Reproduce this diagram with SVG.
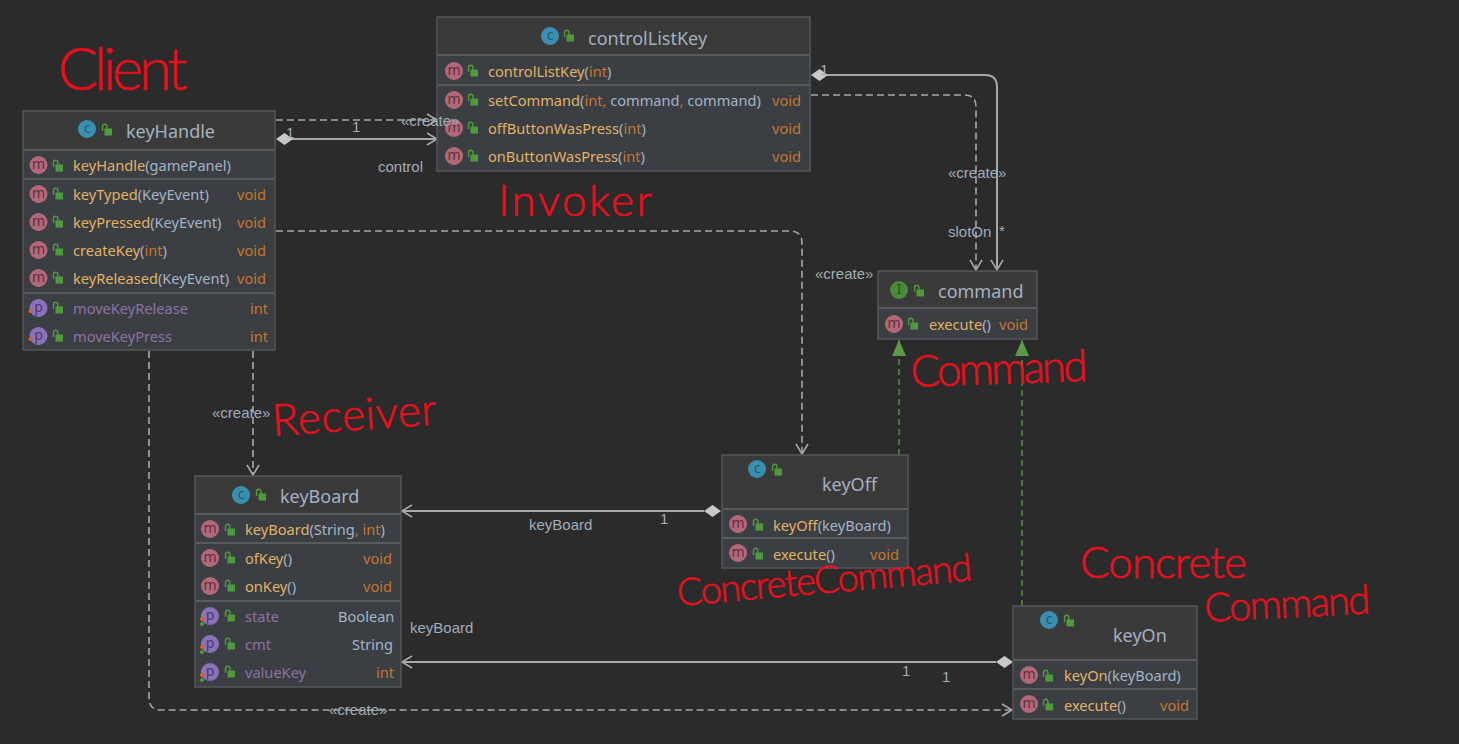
<svg xmlns="http://www.w3.org/2000/svg" width="1459" height="744" viewBox="0 0 1459 744">
<style>
.box{fill:#3b3f43;stroke:#555759;stroke-width:1.5}
.hd{fill:#3a3a3a}
.sep{stroke:#585a5c;stroke-width:2;fill:none}
text{font-family:"Noto Sans","Open Sans",sans-serif;font-size:14.6px}
text.title{font-size:18px;fill:#a3b1c0}
.n{fill:#e2b265}
.a{fill:#a3b4c6}
.o{fill:#c5762f}
.f{fill:#8e72a6}
.r{fill:#a3b4c6}
text.lb{font-family:"Liberation Sans",Arial,sans-serif;font-size:15px;fill:#a0adba}
.s{fill:none;stroke:#a8a8a8;stroke-width:2}
.d{fill:none;stroke:#a8a8a8;stroke-width:1.6;stroke-dasharray:7 4}
.g{fill:none;stroke:#4f8a3f;stroke-width:1.6;stroke-dasharray:6 4}
text.hw{font-family:"Lato","Noto Sans",sans-serif;font-weight:300;fill:#e8101e;stroke:#e8101e;stroke-width:.6;font-size:44px}
text.ic{font-family:"Noto Sans",sans-serif;font-size:14px;text-anchor:middle}
</style>
<defs>
<marker id="open" markerUnits="userSpaceOnUse" markerWidth="16" markerHeight="16" refX="11" refY="7" orient="auto"><path d="M1 1L11 7L1 13" fill="none" stroke="#a8a8a8" stroke-width="1.6"/></marker>
<marker id="tri" markerUnits="userSpaceOnUse" markerWidth="16" markerHeight="18" refX="16" refY="8" orient="auto"><path d="M0 1L16 8L0 15Z" fill="#5b9a48"/></marker>
<g id="lock"><rect x="-2.5" y="-1.5" width="7.5" height="7" fill="#4f9a3a"/><path d="M-4.500 1V-3.500a2.200 2.200 0 0 1 4.400 0V-1" fill="none" stroke="#4f9a3a" stroke-width="1.4"/></g>
<g id="m"><circle r="9" fill="#b3687a"/><text class="ic" y="4" fill="#5e2f3b">m</text></g>
<g id="p"><circle r="9" fill="#8a72ba"/><text class="ic" y="4" fill="#4a3a70">p</text><circle cx="-8" cy="3" r="2" fill="#e0601e"/></g>
<g id="pp"><circle r="9" fill="#8a72ba"/><text class="ic" y="4" fill="#4a3a70">p</text><circle cx="-8" cy="3" r="2" fill="#e0601e"/><circle cx="-8" cy="8" r="2" fill="#4f9a3a"/></g>
<g id="c"><circle r="9" fill="#3a8fb0"/><text class="ic" y="4" fill="#1f5a72">c</text></g>
<g id="i"><circle r="9" fill="#4a8a3a"/><text class="ic" y="4" fill="#24501c">I</text></g>
</defs>
<rect width="1459" height="744" fill="#2b2b2b"/>

<g id="connectors">
<path class="d" d="M276 120H437" marker-end="url(#open)"/>
<path class="s" d="M292 139H437" marker-end="url(#open)"/>
<path d="M276 139L284.500 133L293 139L284.500 145Z" fill="#c8c8c8"/>
<path class="d" d="M276 231H790Q802 231 802 243V454" marker-end="url(#open)"/>
<path class="s" d="M826 75H985Q997 75 997 87V270" marker-end="url(#open)"/>
<path d="M811 75L819.500 69L828 75L819.500 81Z" fill="#c8c8c8"/>
<path class="d" d="M811 95H965Q976 95 976 107V270" marker-end="url(#open)"/>
<path class="d" d="M253 351V475" marker-end="url(#open)"/>
<path class="d" d="M149 351V698Q149 710 161 710H1012" marker-end="url(#open)"/>
<path class="s" d="M704 511H402" marker-end="url(#open)"/>
<path d="M704 511L712.500 505L721 511L712.500 517Z" fill="#c8c8c8"/>
<path class="s" d="M996 662H402" marker-end="url(#open)"/>
<path d="M996 662L1004.500 656L1013 662L1004.500 668Z" fill="#c8c8c8"/>
<path class="g" d="M899 455V340" marker-end="url(#tri)"/>
<path class="g" d="M1022 606V340" marker-end="url(#tri)"/>
</g>

<g id="keyHandle">
<rect class="box" x="23" y="111" width="252" height="239"/>
<rect class="hd" x="24" y="112" width="250" height="38"/>
<path class="sep" d="M24 150H274M24 179H274M24 293H274"/>
<use href="#c" x="87" y="129"/><use href="#lock" x="107" y="130"/>
<text class="title" x="126" y="138">keyHandle</text>
<use href="#m" x="38.500" y="165"/><use href="#lock" x="58" y="166"/>
<text x="73" y="171"><tspan class="n">keyHandle</tspan><tspan class="a">(gamePanel)</tspan></text>
<use href="#m" x="38.500" y="194"/><use href="#lock" x="58" y="194"/>
<text x="73" y="200"><tspan class="n">keyTyped</tspan><tspan class="a">(KeyEvent)</tspan></text><text class="o" x="237" y="200">void</text>
<use href="#m" x="38.500" y="222"/><use href="#lock" x="58" y="222"/>
<text x="73" y="228"><tspan class="n">keyPressed</tspan><tspan class="a">(KeyEvent)</tspan></text><text class="o" x="237" y="228">void</text>
<use href="#m" x="38.500" y="250"/><use href="#lock" x="58" y="250"/>
<text x="73" y="256"><tspan class="n">createKey</tspan><tspan class="a">(</tspan><tspan class="o">int</tspan><tspan class="a">)</tspan></text><text class="o" x="237" y="256">void</text>
<use href="#m" x="38.500" y="278"/><use href="#lock" x="58" y="278"/>
<text x="73" y="284"><tspan class="n">keyReleased</tspan><tspan class="a">(KeyEvent)</tspan></text><text class="o" x="237" y="284">void</text>
<use href="#p" x="38.500" y="308"/><use href="#lock" x="58" y="308"/>
<text class="f" x="73" y="314">moveKeyRelease</text><text class="o" x="250" y="314">int</text>
<use href="#p" x="38.500" y="336"/><use href="#lock" x="58" y="336"/>
<text class="f" x="73" y="342">moveKeyPress</text><text class="o" x="250" y="342">int</text>
</g>

<g id="controlListKey">
<rect class="box" x="437" y="17" width="373" height="154"/>
<rect class="hd" x="438" y="18" width="371" height="37"/>
<path class="sep" d="M438 55H809M438 85H809"/>
<use href="#c" x="550" y="36"/><use href="#lock" x="569" y="36"/>
<text class="title" x="588" y="45">controlListKey</text>
<use href="#m" x="454" y="71"/><use href="#lock" x="473" y="71"/>
<text x="488" y="77"><tspan class="n">controlListKey</tspan><tspan class="a">(</tspan><tspan class="o">int</tspan><tspan class="a">)</tspan></text>
<use href="#m" x="454" y="100"/><use href="#lock" x="473" y="100"/>
<text x="488" y="106"><tspan class="n">setCommand</tspan><tspan class="a">(</tspan><tspan class="o">int,</tspan><tspan class="a"> command</tspan><tspan class="o">,</tspan><tspan class="a"> command)</tspan></text><text class="o" x="772" y="106">void</text>
<use href="#m" x="454" y="128"/><use href="#lock" x="473" y="128"/>
<text x="488" y="134"><tspan class="n">offButtonWasPress</tspan><tspan class="a">(</tspan><tspan class="o">int</tspan><tspan class="a">)</tspan></text><text class="o" x="772" y="134">void</text>
<use href="#m" x="454" y="156"/><use href="#lock" x="473" y="156"/>
<text x="488" y="162"><tspan class="n">onButtonWasPress</tspan><tspan class="a">(</tspan><tspan class="o">int</tspan><tspan class="a">)</tspan></text><text class="o" x="772" y="162">void</text>
</g>

<g id="command">
<rect class="box" x="878" y="271" width="159" height="68"/>
<rect class="hd" x="879" y="272" width="157" height="36"/>
<path class="sep" d="M879 308H1036"/>
<use href="#i" x="899" y="290"/><use href="#lock" x="919" y="291"/>
<text class="title" x="938" y="298">command</text>
<use href="#m" x="894" y="324"/><use href="#lock" x="913" y="324"/>
<text x="929" y="330"><tspan class="n">execute</tspan><tspan class="a">()</tspan></text><text class="o" x="999" y="330">void</text>
</g>

<g id="keyBoard">
<rect class="box" x="195" y="476" width="206" height="211"/>
<rect class="hd" x="196" y="477" width="204" height="37"/>
<path class="sep" d="M196 514H400M196 543H400M196 601H400"/>
<use href="#c" x="241" y="495"/><use href="#lock" x="261" y="495"/>
<text class="title" x="280" y="503">keyBoard</text>
<use href="#m" x="210" y="529"/><use href="#lock" x="230" y="530"/>
<text x="245" y="535"><tspan class="n">keyBoard</tspan><tspan class="a">(String</tspan><tspan class="o">, int</tspan><tspan class="a">)</tspan></text>
<use href="#m" x="210" y="558"/><use href="#lock" x="230" y="558"/>
<text x="245" y="564"><tspan class="n">ofKey</tspan><tspan class="a">()</tspan></text><text class="o" x="363" y="564">void</text>
<use href="#m" x="210" y="586"/><use href="#lock" x="230" y="586"/>
<text x="245" y="592"><tspan class="n">onKey</tspan><tspan class="a">()</tspan></text><text class="o" x="363" y="592">void</text>
<use href="#pp" x="210" y="616"/><use href="#lock" x="230" y="616"/>
<text class="f" x="245" y="622">state</text><text class="r" x="338" y="622">Boolean</text>
<use href="#pp" x="210" y="644"/><use href="#lock" x="230" y="644"/>
<text class="f" x="245" y="650">cmt</text><text class="r" x="352" y="650">String</text>
<use href="#pp" x="210" y="672"/><use href="#lock" x="230" y="672"/>
<text class="f" x="245" y="678">valueKey</text><text class="o" x="376" y="678">int</text>
</g>

<g id="keyOff">
<rect class="box" x="722" y="455" width="186" height="113"/>
<rect class="hd" x="723" y="456" width="184" height="53"/>
<path class="sep" d="M723 509H907M723 538H907"/>
<use href="#c" x="757" y="469"/><use href="#lock" x="777" y="470"/>
<text class="title" x="822" y="491">keyOff</text>
<use href="#m" x="738" y="524"/><use href="#lock" x="758" y="525"/>
<text x="773" y="531"><tspan class="n">keyOff</tspan><tspan class="a">(keyBoard)</tspan></text>
<use href="#m" x="738" y="553"/><use href="#lock" x="758" y="554"/>
<text x="773" y="560"><tspan class="n">execute</tspan><tspan class="a">()</tspan></text><text class="o" x="870" y="560">void</text>
</g>

<g id="keyOn">
<rect class="box" x="1013" y="606" width="184" height="113"/>
<rect class="hd" x="1014" y="607" width="182" height="53"/>
<path class="sep" d="M1014 660H1196M1014 689H1196"/>
<use href="#c" x="1049" y="620"/><use href="#lock" x="1069" y="621"/>
<text class="title" x="1113" y="642">keyOn</text>
<use href="#m" x="1029" y="675"/><use href="#lock" x="1048" y="676"/>
<text x="1064" y="681"><tspan class="n">keyOn</tspan><tspan class="a">(keyBoard)</tspan></text>
<use href="#m" x="1029" y="704"/><use href="#lock" x="1048" y="705"/>
<text x="1064" y="711"><tspan class="n">execute</tspan><tspan class="a">()</tspan></text><text class="o" x="1160" y="711">void</text>
</g>

<g id="connector-labels">
<text class="lb" x="401" y="126">«create»</text>
<text class="lb" x="286" y="138">1</text>
<text class="lb" x="352" y="132">1</text>
<text class="lb" x="378" y="172">control</text>
<text class="lb" x="820" y="75">1</text>
<text class="lb" x="948" y="178">«create»</text>
<text class="lb" x="948" y="237">slotOn</text>
<text class="lb" x="999" y="236">*</text>
<text class="lb" x="815" y="279">«create»</text>
<text class="lb" x="212" y="418">«create»</text>
<text class="lb" x="529" y="530">keyBoard</text>
<text class="lb" x="660" y="524">1</text>
<text class="lb" x="410" y="633">keyBoard</text>
<text class="lb" x="902" y="676">1</text>
<text class="lb" x="942" y="682">1</text>
<text class="lb" x="329" y="715">«create»</text>
</g>

<g id="annotations">
<text class="hw" x="58" y="90" style="font-size:60px" textLength="130">Client</text>
<text class="hw" x="498" y="216" textLength="154">Invoker</text>
<text class="hw" x="911" y="387" textLength="177" transform="rotate(-2 911 387)">Command</text>
<text class="hw" x="273" y="436" textLength="165" transform="rotate(-4 273 436)">Receiver</text>
<text class="hw" x="678" y="606" style="font-size:38px" textLength="296" transform="rotate(-5 678 606)">ConcreteCommand</text>
<text class="hw" x="1080" y="578" textLength="167">Concrete</text>
<text class="hw" x="1205" y="622" style="font-size:40px" textLength="166" transform="rotate(-3 1205 622)">Command</text>
</g>
</svg>
